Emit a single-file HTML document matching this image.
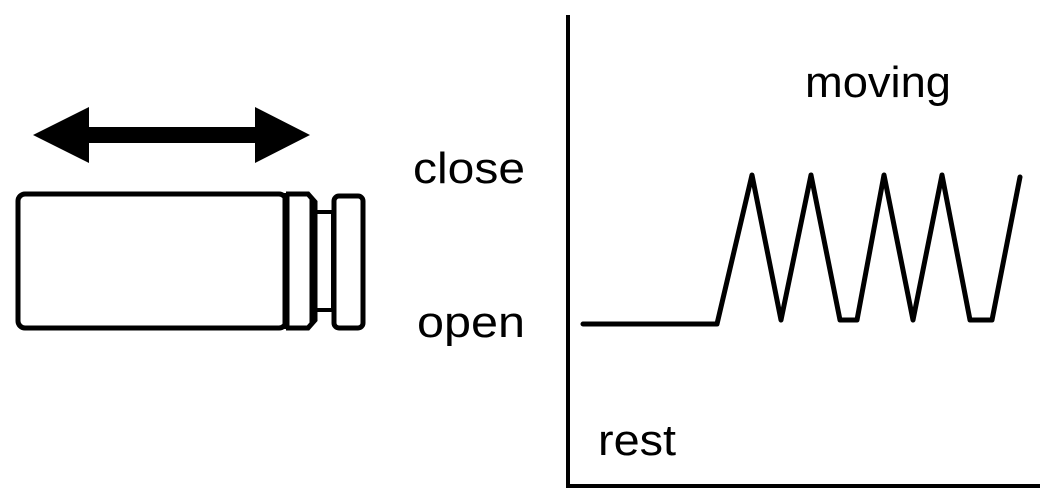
<!DOCTYPE html>
<html><head><style>
html,body{margin:0;padding:0;background:#fff;}
svg{display:block;}
text{font-family:"Liberation Sans",Arial,sans-serif;font-size:44px;fill:#000;}
</style></head><body>
<svg width="1059" height="496" viewBox="0 0 1059 496" xmlns="http://www.w3.org/2000/svg">
<polygon points="33,135 89,107 89,127 255,127 255,107 310,135 255,163 255,143 89,143 89,163" fill="#000"/>
<rect x="18" y="194" width="268" height="134" rx="7" fill="none" stroke="#000" stroke-width="5"/>
<line x1="286" y1="193" x2="286" y2="329" stroke="#000" stroke-width="7"/>
<path d="M286,194 H308 L315,202 V320 L308,328 H286" fill="none" stroke="#000" stroke-width="5"/>
<line x1="311" y1="198" x2="311" y2="324" stroke="#000" stroke-width="3"/>
<rect x="315" y="212" width="18" height="98" fill="none" stroke="#000" stroke-width="4"/>
<rect x="334" y="196" width="29" height="132" rx="5" fill="#fff" stroke="#000" stroke-width="5"/>
<polyline points="568,15 568,486 1040,486" fill="none" stroke="#000" stroke-width="4"/>
<polyline points="583,324 717,324 752,175 781,320 811,175 840,320 857,320 884,175 913,320 942,175 970,320 992,320 1020,177" fill="none" stroke="#000" stroke-width="5" stroke-linejoin="round" stroke-linecap="round"/>
<text x="805" y="97" textLength="146" lengthAdjust="spacingAndGlyphs">moving</text>
<text x="413" y="183" textLength="112" lengthAdjust="spacingAndGlyphs">close</text>
<text x="417" y="337" textLength="108" lengthAdjust="spacingAndGlyphs">open</text>
<text x="598" y="455" textLength="78" lengthAdjust="spacingAndGlyphs">rest</text>
</svg>
</body></html>
